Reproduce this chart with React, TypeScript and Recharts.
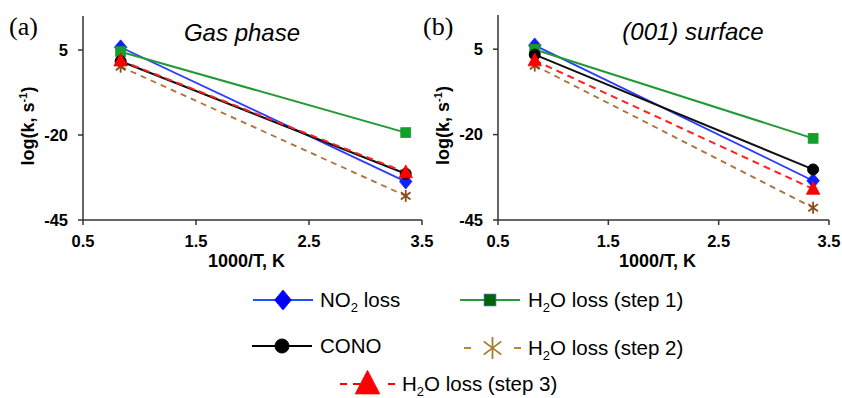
import React from 'react';
import { LineChart, Line, XAxis, YAxis } from 'recharts';

// ---------- data ----------
const xValues = [0.833, 3.356];
const xTicks = [0.5, 1.5, 2.5, 3.5];
const yTicks = [-45, -20, 5];

const gasNO2 = [5.8, -33.7];
const gasH2O1 = [4.5, -19.3];
const gasCONO = [1.7, -31.4];
const gasH2O2 = [0.1, -37.9];
const gasH2O3 = [1.9, -31.0];

const surfNO2 = [6.1, -33.5];
const surfH2O1 = [4.9, -21.1];
const surfCONO = [3.4, -30.2];
const surfH2O2 = [0.2, -41.4];
const surfH2O3 = [1.7, -35.9];

const panelTitles = ['Gas phase', '(001) surface'];
const panelLetters = ['(a)', '(b)'];
const xLabel = '1000/T, K';

type SeriesDef = {
  key: string;
  name: string;
  color: string;
  markerColor: string;
  dash?: string;
  marker: string;
  width: number;
};

const seriesDefs: SeriesDef[] = [
  { key: 'no2', name: 'NO2 loss', color: '#2a3cff', markerColor: '#1020ff', marker: 'diamond', width: 1.8 },
  { key: 'h2o1', name: 'H2O loss (step 1)', color: '#1f9a34', markerColor: '#12a02a', marker: 'square', width: 2 },
  { key: 'cono', name: 'CONO', color: '#111111', markerColor: '#000000', marker: 'circle', width: 2 },
  { key: 'h2o2', name: 'H2O loss (step 2)', color: '#b0703a', markerColor: '#8b4a1a', dash: '6 5', marker: 'asterisk', width: 1.8 },
  { key: 'h2o3', name: 'H2O loss (step 3)', color: '#ff2020', markerColor: '#ff0000', dash: '7 5', marker: 'triangle', width: 2 },
];

const buildRows = (no2: number[], h1: number[], cono: number[], h2: number[], h3: number[]) =>
  xValues.map((x, i) => ({ x, no2: no2[i], h2o1: h1[i], cono: cono[i], h2o2: h2[i], h2o3: h3[i] }));

const gasData = buildRows(gasNO2, gasH2O1, gasCONO, gasH2O2, gasH2O3);
const surfData = buildRows(surfNO2, surfH2O1, surfCONO, surfH2O2, surfH2O3);

const FONT = '"Liberation Sans", Arial, Helvetica, sans-serif';

// ---------- markers ----------
function MarkerShape({ type, cx, cy, color, s, stroke }: { type: string; cx: number; cy: number; color: string; s: number; stroke?: string }) {
  if (type === 'diamond') {
    const pts = `${cx},${cy - s * 0.62} ${cx + s * 0.52},${cy} ${cx},${cy + s * 0.62} ${cx - s * 0.52},${cy}`;
    return <polygon points={pts} fill={color} stroke={stroke || color} strokeWidth={0.8} />;
  }
  if (type === 'square') {
    const h = s * 0.45;
    return <rect x={cx - h} y={cy - h} width={2 * h} height={2 * h} fill={color} stroke={stroke || color} strokeWidth={0.8} />;
  }
  if (type === 'circle') {
    return <circle cx={cx} cy={cy} r={s * 0.5} fill={color} stroke={color} />;
  }
  if (type === 'triangle') {
    const pts = `${cx},${cy - s * 0.62} ${cx + s * 0.56},${cy + s * 0.45} ${cx - s * 0.56},${cy + s * 0.45}`;
    return <polygon points={pts} fill={color} stroke={color} strokeWidth={0.8} />;
  }
  // asterisk
  const r = s * 0.5;
  const d = r * 0.8;
  return (
    <g stroke={color} strokeWidth={1.8}>
      <line x1={cx} y1={cy - r} x2={cx} y2={cy + r} />
      <line x1={cx - d} y1={cy - d * 0.75} x2={cx + d} y2={cy + d * 0.75} />
      <line x1={cx - d} y1={cy + d * 0.75} x2={cx + d} y2={cy - d * 0.75} />
    </g>
  );
}

const makeDot = (def: SeriesDef) => (props: any) => {
  const { cx, cy, index } = props;
  if (cx == null || cy == null) return <g key={`${def.key}-${index}`} />;
  const size = def.marker === 'circle' ? 11 : def.marker === 'square' ? 11 : 12;
  return (
    <g key={`${def.key}-${index}`}>
      <MarkerShape type={def.marker} cx={cx} cy={cy} color={def.markerColor} s={size} />
    </g>
  );
};

// ---------- axis labels ----------
function YLabel(props: any) {
  const vb = props.viewBox || {};
  const x = vb.x + vb.width - 49;
  const y = vb.y + vb.height / 2 + 8;
  return (
    <text
      x={x}
      y={y}
      transform={`rotate(-90 ${x} ${y})`}
      textAnchor="middle"
      fontFamily={FONT}
      fontWeight="bold"
      fontSize={18}
      fill="#000"
    >
      <tspan>log(k, s</tspan>
      <tspan fontSize={11} dy={-7}>-1</tspan>
      <tspan dy={7}>)</tspan>
    </text>
  );
}

function XLabel(props: any) {
  const vb = props.viewBox || {};
  return (
    <text
      x={vb.x + vb.width / 2 - 6}
      y={vb.y + 47}
      textAnchor="middle"
      fontFamily={FONT}
      fontWeight="bold"
      fontSize={18}
      fill="#000"
    >
      {xLabel}
    </text>
  );
}

const tickStyle = { fontFamily: FONT, fontWeight: 'bold' as const, fontSize: 16.5, fill: '#000' };

function Panel({ data, width, margin }: { data: any[]; width: number; margin: any }) {
  return (
    <LineChart width={width} height={280} data={data} margin={margin}>
      <XAxis
        dataKey="x"
        type="number"
        domain={[0.5, 3.5]}
        ticks={xTicks}
        tickFormatter={(v: number) => v.toFixed(1)}
        height={50}
        tickSize={5}
        tickMargin={10}
        stroke="#333"
        strokeWidth={1.5}
        tick={tickStyle}
        interval={0}
        allowDataOverflow
        label={<XLabel />}
      />
      <YAxis
        type="number"
        domain={[-45, 15]}
        ticks={yTicks}
        width={60}
        tickSize={5}
        tickMargin={10}
        stroke="#333"
        strokeWidth={1.5}
        tick={tickStyle}
        interval={0}
        allowDataOverflow
        label={<YLabel />}
      />
      {seriesDefs.map((def) => (
        <Line
          key={def.key}
          dataKey={def.key}
          name={def.name}
          stroke={def.color}
          strokeWidth={def.width}
          strokeDasharray={def.dash}
          dot={makeDot(def)}
          activeDot={false}
          isAnimationActive={false}
          type="linear"
        />
      ))}
    </LineChart>
  );
}

// ---------- legend ----------
function LegendLabel({ x, y, text }: { x: number; y: number; text: string }) {
  const m = text.match(/^(H|NO)2(.*)$/);
  if (m) {
    return (
      <text x={x} y={y} fontFamily={FONT} fontSize={20.5} fill="#000">
        <tspan>{m[1]}</tspan>
        <tspan fontSize={13} dy={5}>2</tspan>
        <tspan dy={-5}>{m[2]}</tspan>
      </text>
    );
  }
  return (
    <text x={x} y={y} fontFamily={FONT} fontSize={20.5} fill="#000">
      {text}
    </text>
  );
}

const legendPos: Record<string, { x: number; y: number; w: number; tx: number }> = {
  no2: { x: 253, y: 300, w: 60, tx: 320 },
  h2o1: { x: 460, y: 300, w: 60, tx: 528 },
  cono: { x: 252, y: 346, w: 60, tx: 320 },
  h2o2: { x: 464, y: 348, w: 57, tx: 528 },
  h2o3: { x: 340, y: 384, w: 55, tx: 402 },
};

const legendColors: Record<string, { line: string; fill: string; stroke?: string }> = {
  no2: { line: '#2050ff', fill: '#0000ff' },
  h2o1: { line: '#2a9a3a', fill: '#006400', stroke: '#2f5f9f' },
  cono: { line: '#000000', fill: '#000000' },
  h2o2: { line: '#b8862b', fill: '#a87b2a' },
  h2o3: { line: '#ff0000', fill: '#ff0000' },
};

function LegendItem({ def }: { def: SeriesDef }) {
  const p = legendPos[def.key];
  const c = legendColors[def.key];
  const w = p.w;
  const mx = p.x + w / 2;
  const size = def.marker === 'asterisk' ? 22 : def.marker === 'triangle' ? 22 : def.marker === 'circle' ? 14 : def.marker === 'square' ? 13 : 16;
  let line;
  if (def.dash) {
    line = (
      <g stroke={c.line} strokeWidth={2}>
        <line x1={p.x} y1={p.y} x2={p.x + 7} y2={p.y} />
        <line x1={p.x + w - 7} y1={p.y} x2={p.x + w} y2={p.y} />
        {def.marker === 'triangle' ? <line x1={p.x + 13} y1={p.y} x2={p.x + 20} y2={p.y} /> : null}
      </g>
    );
  } else {
    line = <line x1={p.x} y1={p.y} x2={p.x + w} y2={p.y} stroke={c.line} strokeWidth={2} />;
  }
  return (
    <g>
      {line}
      <MarkerShape type={def.marker} cx={mx} cy={p.y} color={c.fill} s={size} stroke={c.stroke} />
      <LegendLabel x={p.tx} y={p.y + 7} text={def.name} />
    </g>
  );
}

export default function App() {
  return (
    <div style={{ position: 'absolute', left: 0, top: 0, width: 842, height: 398, background: '#fff', overflow: 'hidden' }}>
      <div style={{ position: 'absolute', left: 0, top: 0 }}>
        <Panel data={gasData} width={445} margin={{ top: 16, right: 23, left: 23, bottom: 10 }} />
      </div>
      <div style={{ position: 'absolute', left: 420, top: 0 }}>
        <Panel data={surfData} width={422} margin={{ top: 15, right: 13, left: 18, bottom: 10 }} />
      </div>
      <svg width={842} height={398} style={{ position: 'absolute', left: 0, top: 0, pointerEvents: 'none' }}>
        <text x={9} y={35} fontFamily='"Liberation Serif", "Times New Roman", serif' fontSize={26} fill="#000">
          {panelLetters[0]}
        </text>
        <text x={423} y={35} fontFamily='"Liberation Serif", "Times New Roman", serif' fontSize={26} fill="#000">
          {panelLetters[1]}
        </text>
        <text x={242} y={41} textAnchor="middle" fontFamily={FONT} fontStyle="italic" fontSize={24} fill="#000">
          {panelTitles[0]}
        </text>
        <text x={693} y={40} textAnchor="middle" fontFamily={FONT} fontStyle="italic" fontSize={24} fill="#000">
          {panelTitles[1]}
        </text>
        {seriesDefs.map((def) => (
          <LegendItem key={def.key} def={def} />
        ))}
      </svg>
    </div>
  );
}
